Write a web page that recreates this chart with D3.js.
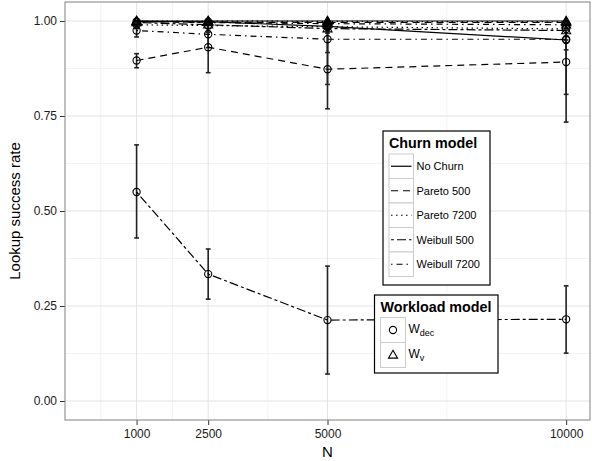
<!DOCTYPE html>
<html>
<head>
<meta charset="utf-8">
<script src="https://cdn.jsdelivr.net/npm/d3@7"></script>
<style>
  body { margin: 0; background: #fff; }
  text { font-family: "Liberation Sans", Arial, sans-serif; }
</style>
</head>
<body>
<div id="chart"></div>
<script>
// network sizes
var nValues = [1000, 2500, 5000, 10000];
var xTicks = [1000, 2500, 5000, 10000];
var yTicks = [0, 0.25, 0.5, 0.75, 1];
var churnModels = ["No Churn", "Pareto 500", "Pareto 7200", "Weibull 500", "Weibull 7200"];
var workloads = ["dec", "v"];

// lookup success rate, mean and error bar ends, per churn model and workload
var noChurnV      = [1.000, 1.000, 1.000, 1.000];
var noChurnVLo    = [0.998, 0.998, 0.997, 0.997];
var noChurnVHi    = [1.000, 1.000, 1.000, 1.000];
var noChurnDec    = [0.999, 0.998, 0.986, 0.950];
var noChurnDecLo  = [0.994, 0.992, 0.975, 0.924];
var noChurnDecHi  = [1.000, 1.000, 0.997, 0.976];
var pareto500V    = [0.998, 0.997, 0.996, 0.996];
var pareto500VLo  = [0.994, 0.993, 0.990, 0.990];
var pareto500VHi  = [1.000, 1.000, 1.000, 1.000];
var pareto500Dec  = [0.896, 0.931, 0.873, 0.892];
var pareto500DecLo = [0.877, 0.864, 0.769, 0.734];
var pareto500DecHi = [0.914, 0.995, 0.977, 1.000];
var pareto7200V   = [1.000, 1.000, 0.999, 0.998];
var pareto7200VLo = [0.998, 0.997, 0.995, 0.994];
var pareto7200VHi = [1.000, 1.000, 1.000, 1.000];
var pareto7200Dec = [0.990, 0.988, 0.985, 0.979];
var pareto7200DecLo = [0.980, 0.975, 0.968, 0.960];
var pareto7200DecHi = [1.000, 1.000, 1.000, 0.998];
var weibull500V   = [0.996, 0.990, 0.980, 0.975];
var weibull500VLo = [0.985, 0.970, 0.917, 0.950];
var weibull500VHi = [1.000, 1.000, 1.000, 1.000];
var weibull500Dec = [0.550, 0.334, 0.213, 0.215];
var weibull500DecLo = [0.429, 0.268, 0.071, 0.126];
var weibull500DecHi = [0.674, 0.400, 0.355, 0.303];
var weibull7200V  = [0.999, 0.996, 0.993, 0.990];
var weibull7200VLo = [0.995, 0.990, 0.985, 0.980];
var weibull7200VHi = [1.000, 1.000, 1.000, 1.000];
var weibull7200Dec = [0.975, 0.965, 0.952, 0.952];
var weibull7200DecLo = [0.958, 0.930, 0.833, 0.807];
var weibull7200DecHi = [0.992, 1.000, 1.000, 1.000];

var series = [
  ["No Churn", "v", noChurnV, noChurnVLo, noChurnVHi],
  ["No Churn", "dec", noChurnDec, noChurnDecLo, noChurnDecHi],
  ["Pareto 500", "v", pareto500V, pareto500VLo, pareto500VHi],
  ["Pareto 500", "dec", pareto500Dec, pareto500DecLo, pareto500DecHi],
  ["Pareto 7200", "v", pareto7200V, pareto7200VLo, pareto7200VHi],
  ["Pareto 7200", "dec", pareto7200Dec, pareto7200DecLo, pareto7200DecHi],
  ["Weibull 500", "v", weibull500V, weibull500VLo, weibull500VHi],
  ["Weibull 500", "dec", weibull500Dec, weibull500DecLo, weibull500DecHi],
  ["Weibull 7200", "v", weibull7200V, weibull7200VLo, weibull7200VHi],
  ["Weibull 7200", "dec", weibull7200Dec, weibull7200DecLo, weibull7200DecHi]
].map(function(s) {
  return {
    churn: s[0], load: s[1],
    values: nValues.map(function(n, i) { return {n: n, rate: s[2][i], lo: s[3][i], hi: s[4][i]}; })
  };
});

var dashes = {
  "No Churn": null,
  "Pareto 500": "7,5",
  "Pareto 7200": "1.5,3.5",
  "Weibull 500": "3,3,9,3",
  "Weibull 7200": "1.5,4,6,4"
};

var svg = d3.select("#chart").append("svg")
    .attr("width", 592)
    .attr("height", 461);

var margin = {top: 2, right: 2, bottom: 41, left: 65},
    width = +svg.attr("width") - margin.left - margin.right,
    height = +svg.attr("height") - margin.top - margin.bottom;

var x = d3.scaleLinear().domain([-500, 10500]).range([0, width]);
var y = d3.scaleLinear().domain([-0.05, 1.05]).range([height, 0]);

var g = svg.append("g")
    .attr("transform", "translate(" + margin.left + "," + margin.top + ")");

g.append("clipPath").attr("id", "clip")
  .append("rect").attr("width", width).attr("height", height);

// minor grid
var xMinor = [250, 1750, 3750, 7500];
var yMinor = [0.125, 0.375, 0.625, 0.875];
g.selectAll(".xminor").data(xMinor).enter().append("line")
    .attr("x1", function(d) { return x(d); }).attr("x2", function(d) { return x(d); })
    .attr("y1", 0).attr("y2", height)
    .style("stroke", "#f3f3f3");
g.selectAll(".yminor").data(yMinor).enter().append("line")
    .attr("y1", function(d) { return y(d); }).attr("y2", function(d) { return y(d); })
    .attr("x1", 0).attr("x2", width)
    .style("stroke", "#f3f3f3");
// major grid
g.selectAll(".xmajor").data(xTicks).enter().append("line")
    .attr("x1", function(d) { return x(d); }).attr("x2", function(d) { return x(d); })
    .attr("y1", 0).attr("y2", height)
    .style("stroke", "#e3e3e3");
g.selectAll(".ymajor").data(yTicks).enter().append("line")
    .attr("y1", function(d) { return y(d); }).attr("y2", function(d) { return y(d); })
    .attr("x1", 0).attr("x2", width)
    .style("stroke", "#e3e3e3");

// axes
var xAxis = g.append("g")
    .attr("transform", "translate(0," + height + ")")
    .call(d3.axisBottom(x).tickValues(xTicks).tickSize(5).tickPadding(4).tickFormat(d3.format("d")));
var yAxis = g.append("g")
    .call(d3.axisLeft(y).tickValues(yTicks).tickSize(5).tickPadding(3).tickFormat(d3.format(".2f")));
[xAxis, yAxis].forEach(function(a) {
  a.select(".domain").remove();
  a.selectAll("line").style("stroke", "#333");
  a.selectAll("text").style("font-size", "12px").style("fill", "#1a1a1a")
      .style("font-family", "'Liberation Sans', Arial, sans-serif");
});

var plot = g.append("g").attr("clip-path", "url(#clip)");

// error bars
var capW = 50;
series.forEach(function(s) {
  var eb = plot.append("g").style("stroke", "#222").style("stroke-width", 1.6).style("fill", "none");
  s.values.forEach(function(d) {
    eb.append("line").attr("x1", x(d.n)).attr("x2", x(d.n)).attr("y1", y(d.lo)).attr("y2", y(d.hi));
    eb.append("line").attr("x1", x(d.n - capW)).attr("x2", x(d.n + capW)).attr("y1", y(d.lo)).attr("y2", y(d.lo));
    eb.append("line").attr("x1", x(d.n - capW)).attr("x2", x(d.n + capW)).attr("y1", y(d.hi)).attr("y2", y(d.hi));
  });
});

var line = d3.line()
    .x(function(d) { return x(d.n); })
    .y(function(d) { return y(d.rate); });

plot.selectAll(".serie")
    .data(series)
  .enter().append("path")
    .attr("d", function(d) { return line(d.values); })
    .style("fill", "none")
    .style("stroke", "#000")
    .style("stroke-width", 1.2)
    .style("stroke-dasharray", function(d) { return dashes[d.churn]; });

var triangle = d3.symbol().type(d3.symbolTriangle).size(36);
series.forEach(function(s) {
  var pts = plot.append("g");
  s.values.forEach(function(d) {
    if (s.load === "dec") {
      pts.append("circle").attr("cx", x(d.n)).attr("cy", y(d.rate)).attr("r", 3.6)
          .style("fill", "none").style("stroke", "#000").style("stroke-width", 1.1);
    } else {
      pts.append("path").attr("d", triangle)
          .attr("transform", "translate(" + x(d.n) + "," + (y(d.rate) + 0.6) + ")")
          .style("fill", "none").style("stroke", "#000").style("stroke-width", 1.1);
    }
  });
});

// panel border
g.append("rect").attr("width", width).attr("height", height)
    .style("fill", "none").style("stroke", "#808080").style("stroke-width", 1);

// axis titles
svg.append("text")
    .attr("transform", "translate(20," + (margin.top + y(0.5)) + ") rotate(-90)")
    .attr("text-anchor", "middle")
    .style("font-size", "15px")
    .text("Lookup success rate");
svg.append("text")
    .attr("x", margin.left + x(5000))
    .attr("y", 457)
    .attr("text-anchor", "middle")
    .style("font-size", "15px")
    .text("N");

// churn legend
var keyS = 24.5;
var leg1 = svg.append("g").attr("transform", "translate(383,131)");
leg1.append("rect").attr("width", 107).attr("height", 154)
    .style("fill", "#fff").style("stroke", "#000").style("stroke-width", 1.2);
leg1.append("text").attr("x", 6).attr("y", 17).style("font-size", "14.3px").style("font-weight", "bold")
    .text("Churn model");
var rows1 = leg1.selectAll(".row").data(churnModels).enter().append("g")
    .attr("transform", function(d, i) { return "translate(6," + (23 + i * keyS) + ")"; });
rows1.append("rect").attr("width", keyS).attr("height", keyS)
    .style("fill", "#fff").style("stroke", "#cccccc");
rows1.append("line").attr("x1", 2).attr("x2", keyS - 2).attr("y1", keyS / 2).attr("y2", keyS / 2)
    .style("stroke", "#000").style("stroke-width", 1.2)
    .style("stroke-dasharray", function(d) { return dashes[d]; });
rows1.append("text").attr("x", keyS + 3).attr("y", keyS / 2 + 4).style("font-size", "11px")
    .text(function(d) { return d; });

// workload legend
var leg2 = svg.append("g").attr("transform", "translate(374.5,295)");
leg2.append("rect").attr("width", 123.5).attr("height", 78)
    .style("fill", "#fff").style("stroke", "#000").style("stroke-width", 1.2);
leg2.append("text").attr("x", 6).attr("y", 17).style("font-size", "14.3px").style("font-weight", "bold")
    .text("Workload model");
var rows2 = leg2.selectAll(".row").data(workloads).enter().append("g")
    .attr("transform", function(d, i) { return "translate(6," + (22.5 + i * 25) + ")"; });
rows2.append("rect").attr("width", 25).attr("height", 25)
    .style("fill", "#fff").style("stroke", "#cccccc");
rows2.each(function(d) {
  var r = d3.select(this);
  if (d === "dec") {
    r.append("circle").attr("cx", 12.5).attr("cy", 12.5).attr("r", 3.6)
        .style("fill", "none").style("stroke", "#000").style("stroke-width", 1.1);
  } else {
    r.append("path").attr("d", triangle).attr("transform", "translate(12.5,13)")
        .style("fill", "none").style("stroke", "#000").style("stroke-width", 1.1);
  }
});
var lab2 = rows2.append("text").attr("x", 28).attr("y", 15).style("font-size", "12px");
lab2.append("tspan").text("W");
lab2.append("tspan").attr("dy", 3).style("font-size", "9px").text(function(d) { return d; });
</script>
</body>
</html>
